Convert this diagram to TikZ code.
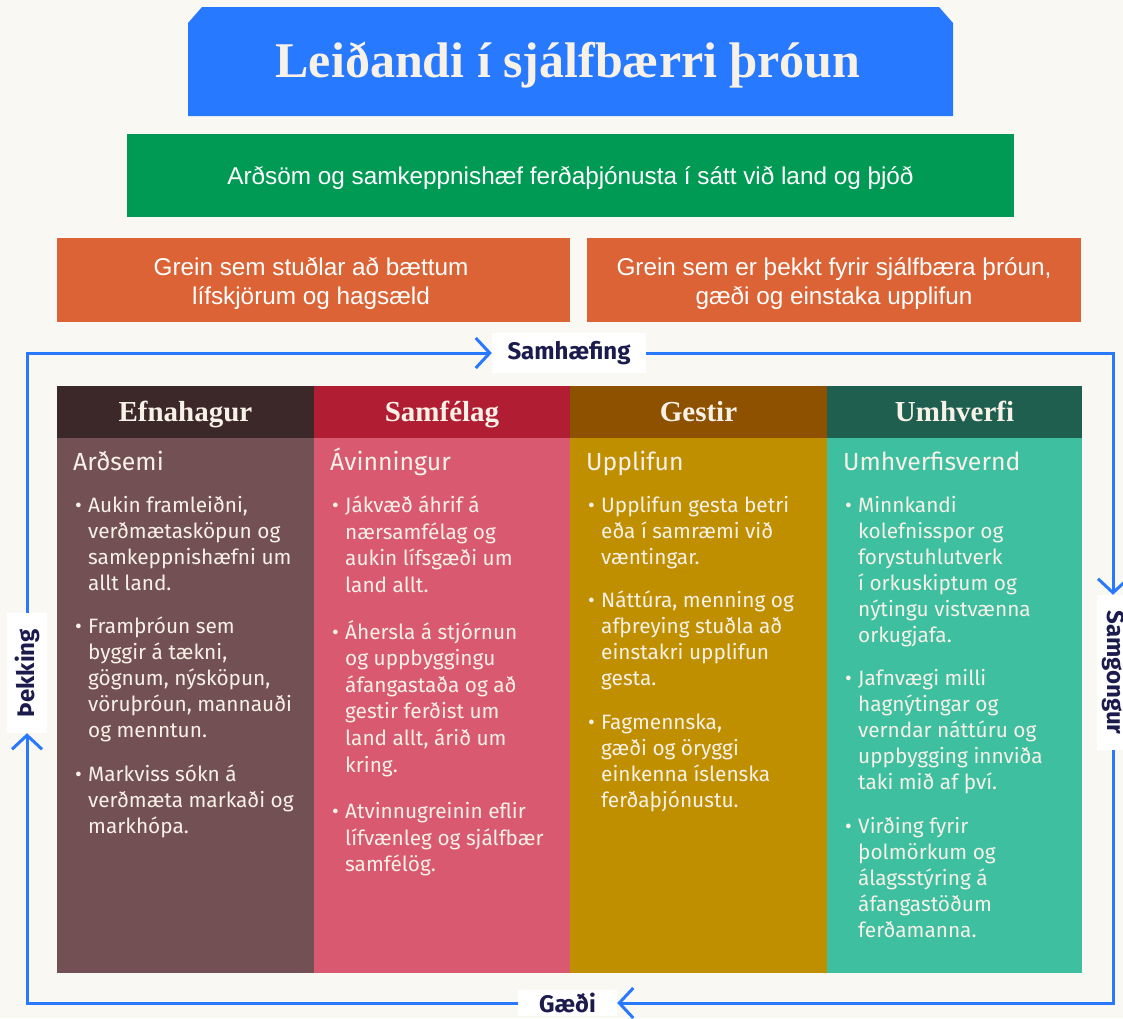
\documentclass[tikz,border=0pt]{standalone}
\usepackage{fontspec}
\usepackage{graphicx}
\usetikzlibrary{arrows.meta}
\setmainfont{Liberation Serif}
\newfontfamily\bodyfont{Fira Sans}
\newfontfamily\boxfont{Liberation Sans}
\definecolor{bgc}{HTML}{F9F8F3}
\definecolor{loopblue}{HTML}{2979FF}
\definecolor{titleblue}{HTML}{277AFF}
\definecolor{missiongreen}{HTML}{009A55}
\definecolor{goalorange}{HTML}{DB6335}
\definecolor{navy}{HTML}{1C1B4D}
\definecolor{cream}{HTML}{F7F1E8}
\definecolor{hA}{HTML}{3C2829}
\definecolor{hB}{HTML}{B11E34}
\definecolor{hC}{HTML}{8D5100}
\definecolor{hD}{HTML}{1F5F50}
\definecolor{bA}{HTML}{735053}
\definecolor{bB}{HTML}{D85970}
\definecolor{bC}{HTML}{BF8F00}
\definecolor{bD}{HTML}{3DBFA0}
\newcommand\colbullet[1]{\par\hangindent=15pt\hangafter=1\noindent\makebox[15pt][l]{\kern2pt •}#1\par}
\newcommand\colsub[1]{{\fontsize{24.8}{28}\selectfont #1\par}\fontsize{20.8}{26}\selectfont\vspace{16pt}}
\newcommand\colgap{\vspace{17.5pt}}
\tikzset{
  hdr/.style={minimum height=52pt, inner sep=0pt, text height=19pt, text depth=0pt,
    font=\fontsize{29}{32}\selectfont\bfseries, text=cream},
  colbody/.style={minimum height=535pt, inner sep=0pt},
  coltext/.style={anchor=base west, inner sep=0pt, text=cream, font=\bodyfont},
  boxtext/.style={anchor=base, inner sep=0pt, text=white, font=\boxfont\fontsize{24.3}{29}\selectfont},
  looplabel/.style={fill=white, inner sep=0pt, text=navy, font=\bodyfont\bfseries\fontsize{24}{28}\selectfont},
  loopline/.style={draw=loopblue, line width=3pt, -{Straight Barb[length=14pt,width=30pt]}},
}
\begin{document}
\begin{tikzpicture}[x=1pt,y=-1pt]
\useasboundingbox[fill=bgc] (0,0) rectangle (1123,1018);
% title
\fill[titleblue] (188,23) -- (202,7) -- (939,7) -- (953,23) -- (953,116) -- (188,116) -- cycle;
\node[anchor=base, inner sep=0pt, text=cream, font=\fontsize{50}{56}\selectfont\bfseries] (title) at (568,77) {Leiðandi í sjálfbærri þróun};
% mission
\node[fill=missiongreen, minimum width=887pt, minimum height=83pt, inner sep=0pt, text height=17pt, text depth=0pt, text=white, font=\boxfont\fontsize{24.3}{29}\selectfont] (mission) at (570.5,175.5) {Arðsöm og samkeppnishæf ferðaþjónusta í sátt við land og þjóð};
% goals
\node[fill=goalorange, minimum width=513pt, minimum height=84pt, inner sep=0pt] (goalA) at (313.5,280) {};
\node[fill=goalorange, minimum width=494pt, minimum height=84pt, inner sep=0pt] (goalB) at (834,280) {};
\node[boxtext] (goalAt) at (311,275) {\parbox[t]{500pt}{\centering\baselineskip=29pt Grein sem stuðlar að bættum\\ lífskjörum og hagsæld}};
\node[boxtext] (goalBt) at (834,275) {\parbox[t]{480pt}{\centering\baselineskip=29pt Grein sem er þekkt fyrir sjálfbæra þróun,\\ gæði og einstaka upplifun}};
% column headers
\node[hdr, fill=hA, minimum width=257pt] (hA) at (185.5,412) {Efnahagur};
\node[hdr, fill=hB, minimum width=256pt] (hB) at (442,412) {Samfélag};
\node[hdr, fill=hC, minimum width=257pt] (hC) at (698.5,412) {Gestir};
\node[hdr, fill=hD, minimum width=255pt] (hD) at (954.5,412) {Umhverfi};
% column bodies
\node[colbody, fill=bA, minimum width=257pt] (bA) at (185.5,705.5) {};
\node[colbody, fill=bB, minimum width=256pt] (bB) at (442,705.5) {};
\node[colbody, fill=bC, minimum width=257pt] (bC) at (698.5,705.5) {};
\node[colbody, fill=bD, minimum width=255pt] (bD) at (954.5,705.5) {};
% column texts
\node[coltext] (tA) at (73,470) {\parbox[t]{300pt}{\parskip=0pt
\colsub{Arðsemi}
\colbullet{Aukin framleiðni,\\ verðmætasköpun og\\ samkeppnishæfni um\\ allt land.}\colgap
\colbullet{Framþróun sem\\ byggir á tækni,\\ gögnum, nýsköpun,\\ vöruþróun, mannauði\\ og menntun.}\colgap
\colbullet{Markviss sókn á\\ verðmæta markaði og\\ markhópa.}}};
\node[coltext] (tB) at (330,470) {\parbox[t]{300pt}{\parskip=0pt
\colsub{Ávinningur}\baselineskip=26.6pt
\colbullet{Jákvæð áhrif á\\ nærsamfélag og\\ aukin lífsgæði um\\ land allt.}\vspace{20pt}
\colbullet{Áhersla á stjórnun\\ og uppbyggingu\\ áfangastaða og að\\ gestir ferðist um\\ land allt, árið um\\ kring.}\vspace{20pt}
\colbullet{Atvinnugreinin eflir\\ lífvænleg og sjálfbær\\ samfélög.}}};
\node[coltext] (tC) at (586,470) {\parbox[t]{300pt}{\parskip=0pt
\colsub{Upplifun}
\colbullet{Upplifun gesta betri\\ eða í samræmi við\\ væntingar.}\colgap
\colbullet{Náttúra, menning og\\ afþreying stuðla að\\ einstakri upplifun\\ gesta.}\colgap
\colbullet{Fagmennska,\\ gæði og öryggi\\ einkenna íslenska\\ ferðaþjónustu.}}};
\node[coltext] (tD) at (843,470) {\parbox[t]{300pt}{\parskip=0pt
\colsub{Umhverfisvernd}
\colbullet{Minnkandi\\ kolefnisspor og\\ forystuhlutverk\\ í orkuskiptum og\\ nýtingu vistvænna\\ orkugjafa.}\colgap
\colbullet{Jafnvægi milli\\ hagnýtingar og\\ verndar náttúru og\\ uppbygging innviða\\ taki mið af því.}\colgap
\colbullet{Virðing fyrir\\ þolmörkum og\\ álagsstýring á\\ áfangastöðum\\ ferðamanna.}}};
% loop labels
\node[looplabel, minimum width=154pt, minimum height=40pt] (samh) at (569,353) {Samhæfing};
\node[looplabel, minimum width=32pt, minimum height=155pt] (samg) at (1113,672.5) {\rotatebox{-90}{Samgongur}};
\node[looplabel, minimum width=99pt, minimum height=26pt] (gaedi) at (567.5,1003) {Gæði};
\node[looplabel, minimum width=40pt, minimum height=120pt] (thekk) at (27,673) {\rotatebox{90}{Þekking}};
% loop connectors
\draw[loopline] (thekk.north) |- (samh.west);
\draw[loopline] (samh.east) -| (samg.north);
\draw[loopline] (samg.south) |- (gaedi.east);
\draw[loopline] (gaedi.west) -| (thekk.south);
\end{tikzpicture}
\end{document}
